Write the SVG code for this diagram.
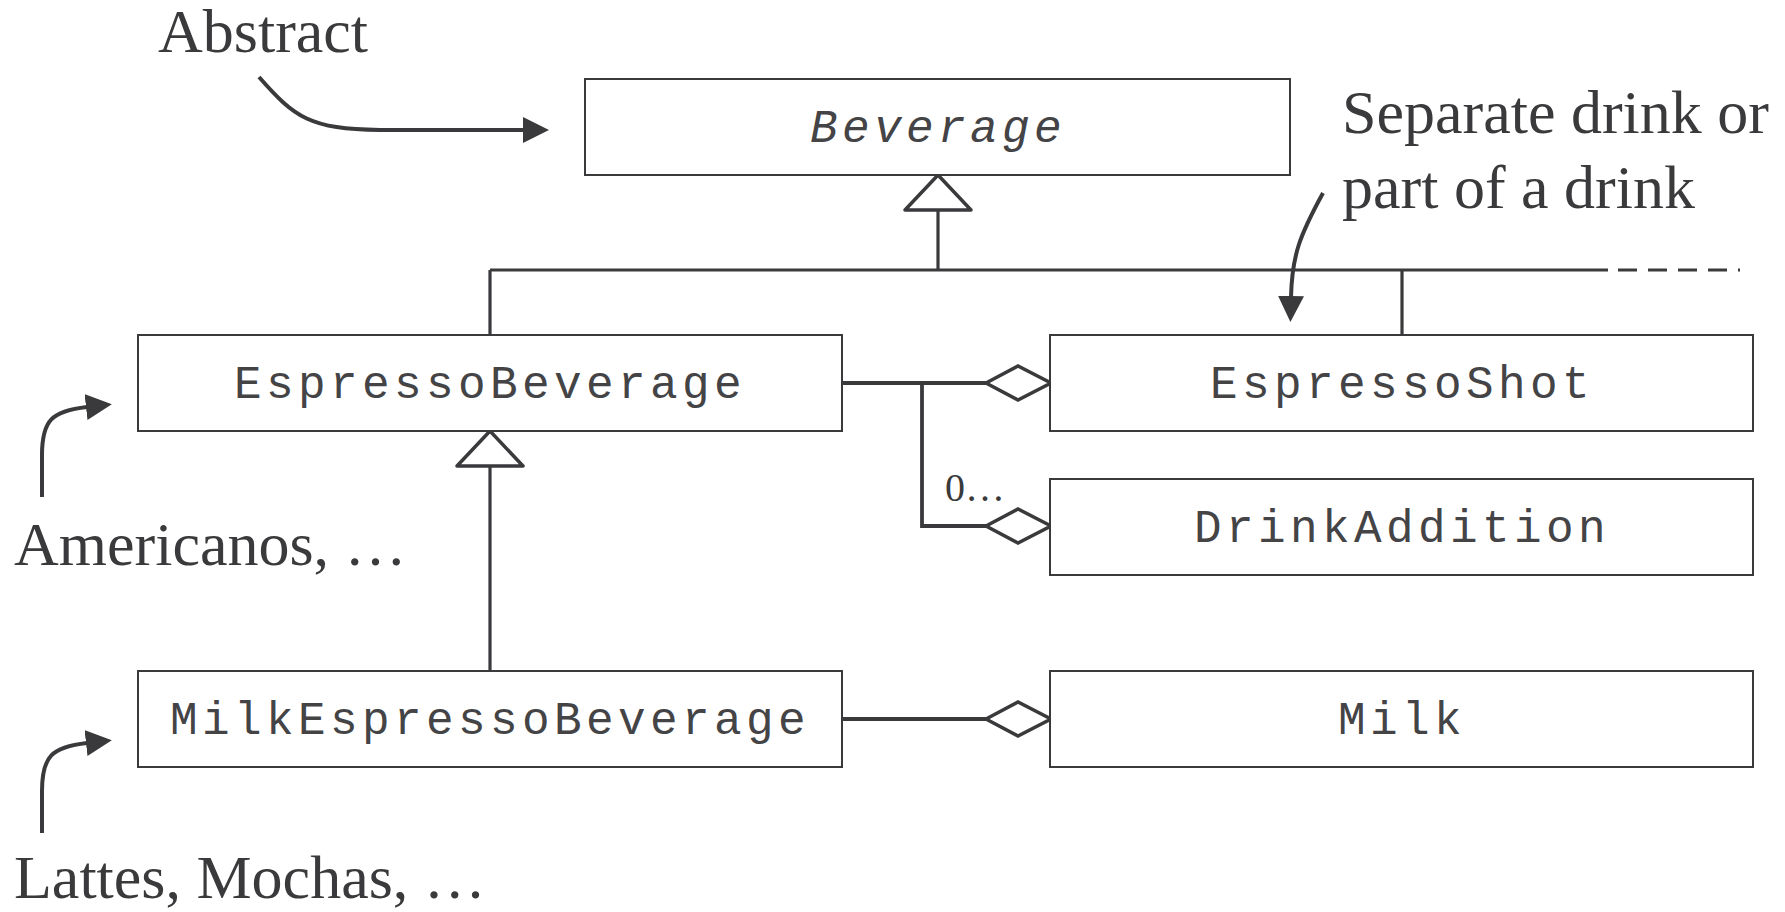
<svg xmlns="http://www.w3.org/2000/svg" width="1785" height="912" viewBox="0 0 1785 912">
<style>
.box{fill:#fff;stroke:#3a3a3c;stroke-width:2}
.cls{font-family:"Liberation Mono","Courier New",monospace;font-size:46px;letter-spacing:4.4px;fill:#444446;text-anchor:middle}
.abs{font-style:italic}
.note{font-family:"Liberation Serif","Times New Roman",serif;font-size:62px;fill:#3a3a3c}
.gen{fill:none;stroke:#3a3a3c;stroke-width:3.2}
.agg{fill:none;stroke:#3a3a3c;stroke-width:3.8}
.tri{fill:#fff;stroke:#3a3a3c;stroke-width:3.5;stroke-linejoin:round}
.dia{fill:#fff;stroke:#3a3a3c;stroke-width:3.5;stroke-linejoin:miter}
.ann{fill:none;stroke:#3a3a3c;stroke-width:4}
</style>
<defs>
<marker id="ah" markerUnits="userSpaceOnUse" markerWidth="28" markerHeight="28" refX="1" refY="13" orient="auto">
<path d="M0,0 L26,13 L0,26 z" fill="#3a3a3c"/>
</marker>
</defs>
<g id="connectors">
<line class="gen" x1="938" y1="210" x2="938" y2="270"/>
<line class="gen" x1="490" y1="270" x2="1608" y2="270"/>
<line class="gen" x1="1618" y1="270" x2="1740" y2="270" stroke-dasharray="19 11"/>
<line class="gen" x1="490" y1="270" x2="490" y2="335"/>
<line class="gen" x1="1402" y1="270" x2="1402" y2="335"/>
<polygon class="tri" points="938,175 971,210 905,210"/>
<line class="gen" x1="490" y1="466" x2="490" y2="671"/>
<polygon class="tri" points="490,431 523,466 457,466"/>
<polyline class="agg" points="842,383 986,383"/>
<polyline class="agg" points="922,383 922,526 986,526"/>
<polygon class="dia" points="986,383 1018,366 1051,383 1018,400"/>
<polygon class="dia" points="986,526 1018,509 1051,526 1018,543"/>
<text x="945" y="501" style="font-family:'Liberation Serif','Times New Roman',serif;font-size:40px;fill:#3a3a3c">0…</text>
<polyline class="agg" points="842,719 986,719"/>
<polygon class="dia" points="986,719 1018,702 1051,719 1018,736"/>
</g>
<g id="annotations">
<text class="note" x="158" y="52">Abstract</text>
<path class="ann" d="M259 77 C295 118, 310 129, 380 130 L524 130" marker-end="url(#ah)"/>
<text class="note" x="1342" y="133">Separate drink or</text>
<text class="note" x="1342" y="208">part of a drink</text>
<path class="ann" d="M1323 193 C1300 235, 1292 255, 1291 297" marker-end="url(#ah)"/>
<text class="note" x="14" y="565">Americanos, …</text>
<path class="ann" d="M42 497 L42 455 C42 420, 52 411, 87 407" marker-end="url(#ah)"/>
<text class="note" x="14" y="898">Lattes, Mochas, …</text>
<path class="ann" d="M42 833 L42 791 C42 756, 52 747, 87 743" marker-end="url(#ah)"/>
</g>
<g id="Beverage">
<rect class="box" x="585" y="79" width="705" height="96"/>
<text class="cls abs" x="938" y="142">Beverage</text>
</g>
<g id="EspressoBeverage">
<rect class="box" x="138" y="335" width="704" height="96"/>
<text class="cls" x="490" y="398">EspressoBeverage</text>
</g>
<g id="EspressoShot">
<rect class="box" x="1050" y="335" width="703" height="96"/>
<text class="cls" x="1402" y="398">EspressoShot</text>
</g>
<g id="DrinkAddition">
<rect class="box" x="1050" y="479" width="703" height="96"/>
<text class="cls" x="1402" y="542">DrinkAddition</text>
</g>
<g id="MilkEspressoBeverage">
<rect class="box" x="138" y="671" width="704" height="96"/>
<text class="cls" x="490" y="734">MilkEspressoBeverage</text>
</g>
<g id="Milk">
<rect class="box" x="1050" y="671" width="703" height="96"/>
<text class="cls" x="1402" y="734">Milk</text>
</g>
</svg>
